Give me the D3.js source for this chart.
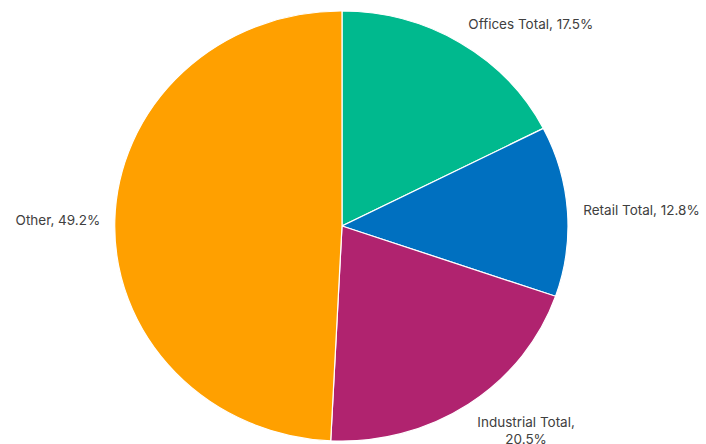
<!DOCTYPE html>
<html>
<head>
<meta charset="utf-8">
<script src="https://cdn.jsdelivr.net/npm/d3@7"></script>
<style>
  body { margin: 0; background: #fff; }
  svg text { font-family: "Inter", "Noto Sans", sans-serif; font-size: 13.5px; fill: #404040; }
</style>
</head>
<body>
<div id="chart"></div>
<script>
// sector shares, clockwise from 12 o'clock
const categories = ["Offices Total", "Retail Total", "Industrial Total", "Other"];
const shares = [17.5, 12.8, 20.5, 49.2];
const sliceColors = ["#00B98E", "#0070C0", "#B0236F", "#FFA000"];

const width = 706, height = 444;
const cx = 342, cy = 226;
const rx = 226, ry = 215; // the pie is slightly squashed vertically
const labelKx = 1.07, labelKy = 1.10;

const svg = d3.select("#chart")
    .append("svg")
    .attr("width", width)
    .attr("height", height);

const pie = d3.pie().sort(null).value(d => d)(shares);

// unit arcs, stretched into the ellipse
const arc = d3.arc().innerRadius(0).outerRadius(1);

const g = svg.append("g")
    .attr("transform", `translate(${cx},${cy}) scale(${rx},${ry})`);

g.selectAll("path")
    .data(pie)
    .enter().append("path")
    .attr("d", arc)
    .attr("fill", (d, i) => sliceColors[i])
    .attr("stroke", "#fff")
    .attr("stroke-width", 1.2)
    .attr("vector-effect", "non-scaling-stroke");

// labels outside the slices
pie.forEach((d, i) => {
    const mid = (d.startAngle + d.endAngle) / 2;
    const x = cx + rx * labelKx * Math.sin(mid);
    const y = cy - ry * labelKy * Math.cos(mid);
    const right = Math.sin(mid) >= 0;
    const txt = `${categories[i]}, ${shares[i].toFixed(1)}%`;

    if (i === 2) {
        // long label wraps onto two centred lines
        const t = svg.append("text").attr("text-anchor", "middle");
        const l1 = t.append("tspan").text(`${categories[i]},`);
        const w = l1.node().getComputedTextLength();
        l1.attr("x", x + w / 2).attr("y", y + 5);
        t.append("tspan").attr("x", x + w / 2).attr("dy", 17).text(`${shares[i].toFixed(1)}%`);
    } else {
        svg.append("text")
            .attr("x", x)
            .attr("y", y + 5)
            .attr("text-anchor", right ? "start" : "end")
            .text(txt);
    }
});
</script>
</body>
</html>
